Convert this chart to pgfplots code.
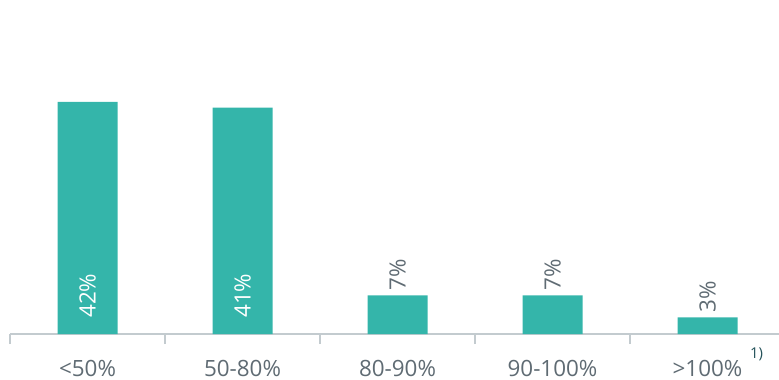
\documentclass[border=0pt]{standalone}
\usepackage{fontspec}
\setmainfont{Open Sans}
\usepackage{pgfplots}
\usepackage{pgfplotstable}
\pgfplotsset{compat=1.18}

\definecolor{barteal}{HTML}{34B5AA}
\definecolor{axisgray}{HTML}{C3CBCF}
\definecolor{labelgray}{HTML}{5F6B73}
\definecolor{notecolor}{HTML}{24525A}

% share of cases per coverage band
\pgfplotstableread{
x y
0 42
1 41
}\bigbars
\pgfplotstableread{
x y
2 7
3 7
4 3
}\smallbars

\begin{document}
\begin{tikzpicture}
\begin{axis}[
  scale only axis, width=769bp, height=334bp,
  xmin=-0.5, xmax=4.4613, ymin=0, ymax=60.46,
  axis y line=none, axis x line*=bottom,
  x axis line style={draw=axisgray, line width=1.3bp},
  xtick={0,1,2,3,4},
  xticklabels={{<50\%},{50-80\%},{80-90\%},{90-100\%},{>100\%}},
  major tick length=0pt,
  xticklabel style={font=\fontsize{22.5}{26}\selectfont, text=labelgray, anchor=base, yshift=-42bp},
  extra x ticks={-0.5,0.5,1.5,2.5,3.5},
  extra x tick labels={},
  extra x tick style={major tick length=10bp, tick align=outside,
    tick style={draw=axisgray, line width=1.3bp}},
  /pgf/number format/assume math mode=true,
  clip=false,
  ybar, bar width=60bp, bar shift=0pt,
  every node near coord/.append style={font=\fontsize{22.5}{26}\selectfont, inner sep=0pt},
]
% bars
\addplot[fill=barteal, draw=none] table[x=x, y=y] {\bigbars};
\addplot[fill=barteal, draw=none,
  nodes near coords={\pgfmathprintnumber{\pgfplotspointmeta}\%},
  every node near coord/.append style={text=labelgray, yshift=5bp, rotate=90, anchor=west}]
  table[x=x, y=y] {\smallbars};
% values written inside the tall bars, near their foot
\addplot[draw=none, fill=none, point meta=explicit,
  nodes near coords={\pgfmathprintnumber{\pgfplotspointmeta}\%},
  every node near coord/.append style={text=white, yshift=16bp, rotate=90, anchor=west}]
  table[x=x, y expr=0, meta=y] {\bigbars};
\node[font=\fontsize{15}{17}\selectfont, text=notecolor] at ([xshift=49bp, yshift=-20bp]axis cs:4,0) {1)};
\end{axis}
\pgfresetboundingbox
\useasboundingbox (-10bp,-46bp) rectangle (769bp,334bp);
\end{tikzpicture}
\end{document}
